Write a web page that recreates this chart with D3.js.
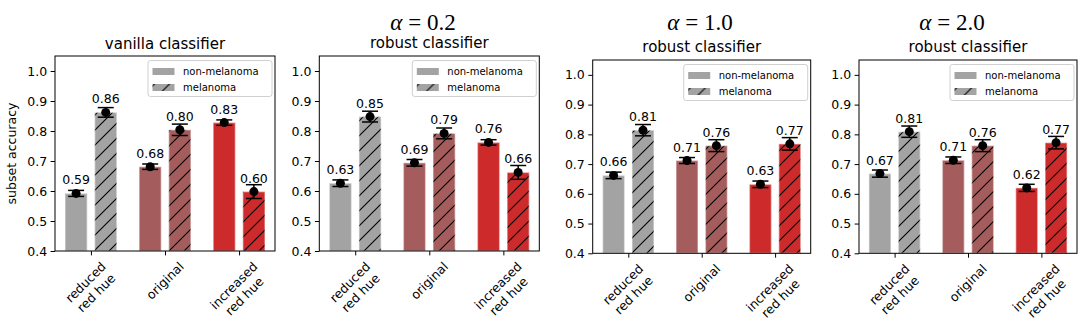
<!DOCTYPE html>
<html>
<head>
<meta charset="utf-8">
<script src="https://cdn.jsdelivr.net/npm/d3@7"></script>
<style>
  body { margin: 0; background: #fff; }
  svg text { font-family: "DejaVu Sans", sans-serif; fill: #000; }
</style>
</head>
<body>
<svg id="chart" width="1080" height="333"></svg>
<script>
// Data
const categories = ['reduced\nred hue', 'original', 'increased\nred hue'];
const groups = ['non-melanoma', 'melanoma'];
const catColors = ['#a3a3a3', '#a55c5c', '#cd2b2b'];
const yTicks = [0.4, 0.5, 0.6, 0.7, 0.8, 0.9, 1.0];

const panelTitles = ['vanilla classifier', 'robust classifier', 'robust classifier', 'robust classifier'];
const panelAlphas = [null, '0.2', '1.0', '2.0'];

const nonMel = [
  [0.592, 0.681, 0.828],
  [0.626, 0.694, 0.762],
  [0.662, 0.712, 0.632],
  [0.668, 0.713, 0.620]
];
const nonMelErr = [
  [0.010, 0.009, 0.009],
  [0.011, 0.011, 0.009],
  [0.011, 0.010, 0.011],
  [0.012, 0.011, 0.012]
];
const mel = [
  [0.862, 0.804, 0.598],
  [0.848, 0.792, 0.662],
  [0.814, 0.762, 0.768],
  [0.809, 0.762, 0.772]
];
const melErr = [
  [0.016, 0.019, 0.023],
  [0.018, 0.018, 0.023],
  [0.019, 0.020, 0.021],
  [0.019, 0.020, 0.021]
];

// Layout (px)
const layout = [
  {left: 55,    right: 275,    top: 56, bottom: 251,   titleY: 49, alphaX: 0},
  {left: 319.3, right: 539.3,  top: 56, bottom: 251,   titleY: 48, alphaX: 423},
  {left: 592.7, right: 810.7,  top: 60, bottom: 253.3, titleY: 52, alphaX: 700},
  {left: 859,   right: 1077,   top: 60, bottom: 253.3, titleY: 52, alphaX: 952}
];
const fs = 12.5;
const barW = 0.3, barOff = 0.2;

const svg = d3.select('#chart');
const defs = svg.append('defs');

// hatch patterns, one per colour
catColors.forEach((c, i) => {
  const p = 15;
  const pat = defs.append('pattern')
      .attr('id', 'hatch' + i)
      .attr('patternUnits', 'userSpaceOnUse')
      .attr('width', p).attr('height', p);
  pat.append('rect').attr('width', p).attr('height', p).attr('fill', c);
  pat.append('path')
      .attr('d', `M0,${p} l${p},${-p} M${-p/4},${p/4} l${p/2},${-p/2} M${3*p/4},${5*p/4} l${p/2},${-p/2}`)
      .attr('stroke', '#000').attr('stroke-width', 1.1);
});

layout.forEach((L, pi) => {
  const g = svg.append('g');
  const x = d3.scaleLinear().domain([-0.485, 2.485]).range([L.left, L.right]);
  const y = d3.scaleLinear().domain([0.4, 1.05]).range([L.bottom, L.top]);

  // y axis
  const ya = g.append('g')
      .attr('transform', `translate(${L.left},0)`)
      .call(d3.axisLeft(y).tickValues(yTicks).tickFormat(d3.format('.1f')).tickSize(4.4).tickPadding(3.5));
  ya.select('.domain').remove();
  ya.selectAll('text').attr('font-size', fs).attr('font-family', 'DejaVu Sans').attr('fill', '#000');
  ya.selectAll('line').attr('stroke', '#000');

  // x axis
  const xa = g.append('g')
      .attr('transform', `translate(0,${L.bottom})`)
      .call(d3.axisBottom(x).tickValues([0, 1, 2]).tickFormat('').tickSize(4.4));
  xa.select('.domain').remove();
  xa.selectAll('line').attr('stroke', '#000');

  // rotated category labels
  categories.forEach((cat, ci) => {
    const lines = cat.split('\n');
    const lineH = fs * 1.2;
    const lg = g.append('g');
    const t = lg.append('text').attr('font-size', fs).attr('text-anchor', 'middle');
    lines.forEach((ln, k) => {
      t.append('tspan').attr('x', 0)
        .attr('y', (k - (lines.length - 1) / 2) * lineH + 0.35 * fs)
        .text(ln);
    });
    let w = 0;
    t.selectAll('tspan').each(function () { w = Math.max(w, this.getComputedTextLength()); });
    const h = lines.length * lineH;
    const cy = L.bottom + 4.4 + 3.5 + (w + h) / (2 * Math.SQRT2);
    lg.attr('transform', `translate(${x(ci)},${cy}) rotate(-45)`);
  });

  // bars
  const series = [
    {vals: nonMel[pi], errs: nonMelErr[pi], off: -barOff, hatch: false},
    {vals: mel[pi], errs: melErr[pi], off: barOff, hatch: true}
  ];
  series.forEach(s => {
    s.vals.forEach((v, ci) => {
      const x0 = x(ci + s.off - barW / 2), x1 = x(ci + s.off + barW / 2);
      g.append('rect')
        .attr('x', x0).attr('y', y(v))
        .attr('width', x1 - x0).attr('height', y(0.4) - y(v))
        .attr('fill', s.hatch ? `url(#hatch${ci})` : catColors[ci])
        .attr('stroke', '#fff').attr('stroke-opacity', 0.45).attr('stroke-width', 1.5);
    });
  });

  // error bars, dots, labels
  series.forEach(s => {
    s.vals.forEach((v, ci) => {
      const cx = x(ci + s.off), e = s.errs[ci];
      g.append('line').attr('x1', cx).attr('x2', cx)
        .attr('y1', y(v - e)).attr('y2', y(v + e))
        .attr('stroke', '#000').attr('stroke-width', 1.5);
      [v - e, v + e].forEach(c => {
        g.append('line').attr('x1', cx - 8).attr('x2', cx + 8)
          .attr('y1', y(c)).attr('y2', y(c))
          .attr('stroke', '#000').attr('stroke-width', 1.5);
      });
      g.append('circle').attr('cx', cx).attr('cy', y(v)).attr('r', 4.5).attr('fill', '#000');
      g.append('text').attr('x', cx).attr('y', y(v) - 9)
        .attr('text-anchor', 'middle').attr('font-size', fs)
        .text(v.toFixed(2));
    });
  });

  // frame
  g.append('rect')
    .attr('x', L.left).attr('y', L.top)
    .attr('width', L.right - L.left).attr('height', L.bottom - L.top)
    .attr('fill', 'none').attr('stroke', '#000').attr('stroke-width', 1);

  // legend
  const lw = 124, lh = 36;
  const lx = L.right - 3 - lw, ly = L.top + 4.5;
  const leg = g.append('g').attr('transform', `translate(${lx},${ly})`);
  leg.append('rect').attr('width', lw).attr('height', lh).attr('rx', 2.5)
    .attr('fill', '#fff').attr('fill-opacity', 0.8)
    .attr('stroke', '#d0d0d0').attr('stroke-width', 1);
  groups.forEach((name, k) => {
    const ry = 11 + k * 16;
    leg.append('rect').attr('x', 4.5).attr('y', ry - 3.5).attr('width', 22).attr('height', 7)
      .attr('fill', k === 1 ? 'url(#hatch0)' : catColors[0]);
    leg.append('text').attr('x', 35).attr('y', ry).attr('dy', '0.35em')
      .attr('font-size', 10).text(name);
  });

  // titles
  const cxT = (L.left + L.right) / 2;
  g.append('text').attr('x', cxT).attr('y', L.titleY)
    .attr('text-anchor', 'middle').attr('font-size', 15)
    .text(panelTitles[pi]);
  if (panelAlphas[pi]) {
    const at = g.append('text').attr('x', L.alphaX).attr('y', 30)
      .attr('text-anchor', 'middle').attr('font-size', 23)
      .style('font-family', '"Liberation Serif", serif');
    at.append('tspan').attr('font-style', 'italic').text('α');
    at.append('tspan').text(' = ' + panelAlphas[pi]);
  }
});

// y label
svg.append('text')
  .attr('transform', `translate(16,${(layout[0].top + layout[0].bottom) / 2}) rotate(-90)`)
  .attr('text-anchor', 'middle').attr('font-size', fs)
  .text('subset accuracy');
</script>
</body>
</html>
